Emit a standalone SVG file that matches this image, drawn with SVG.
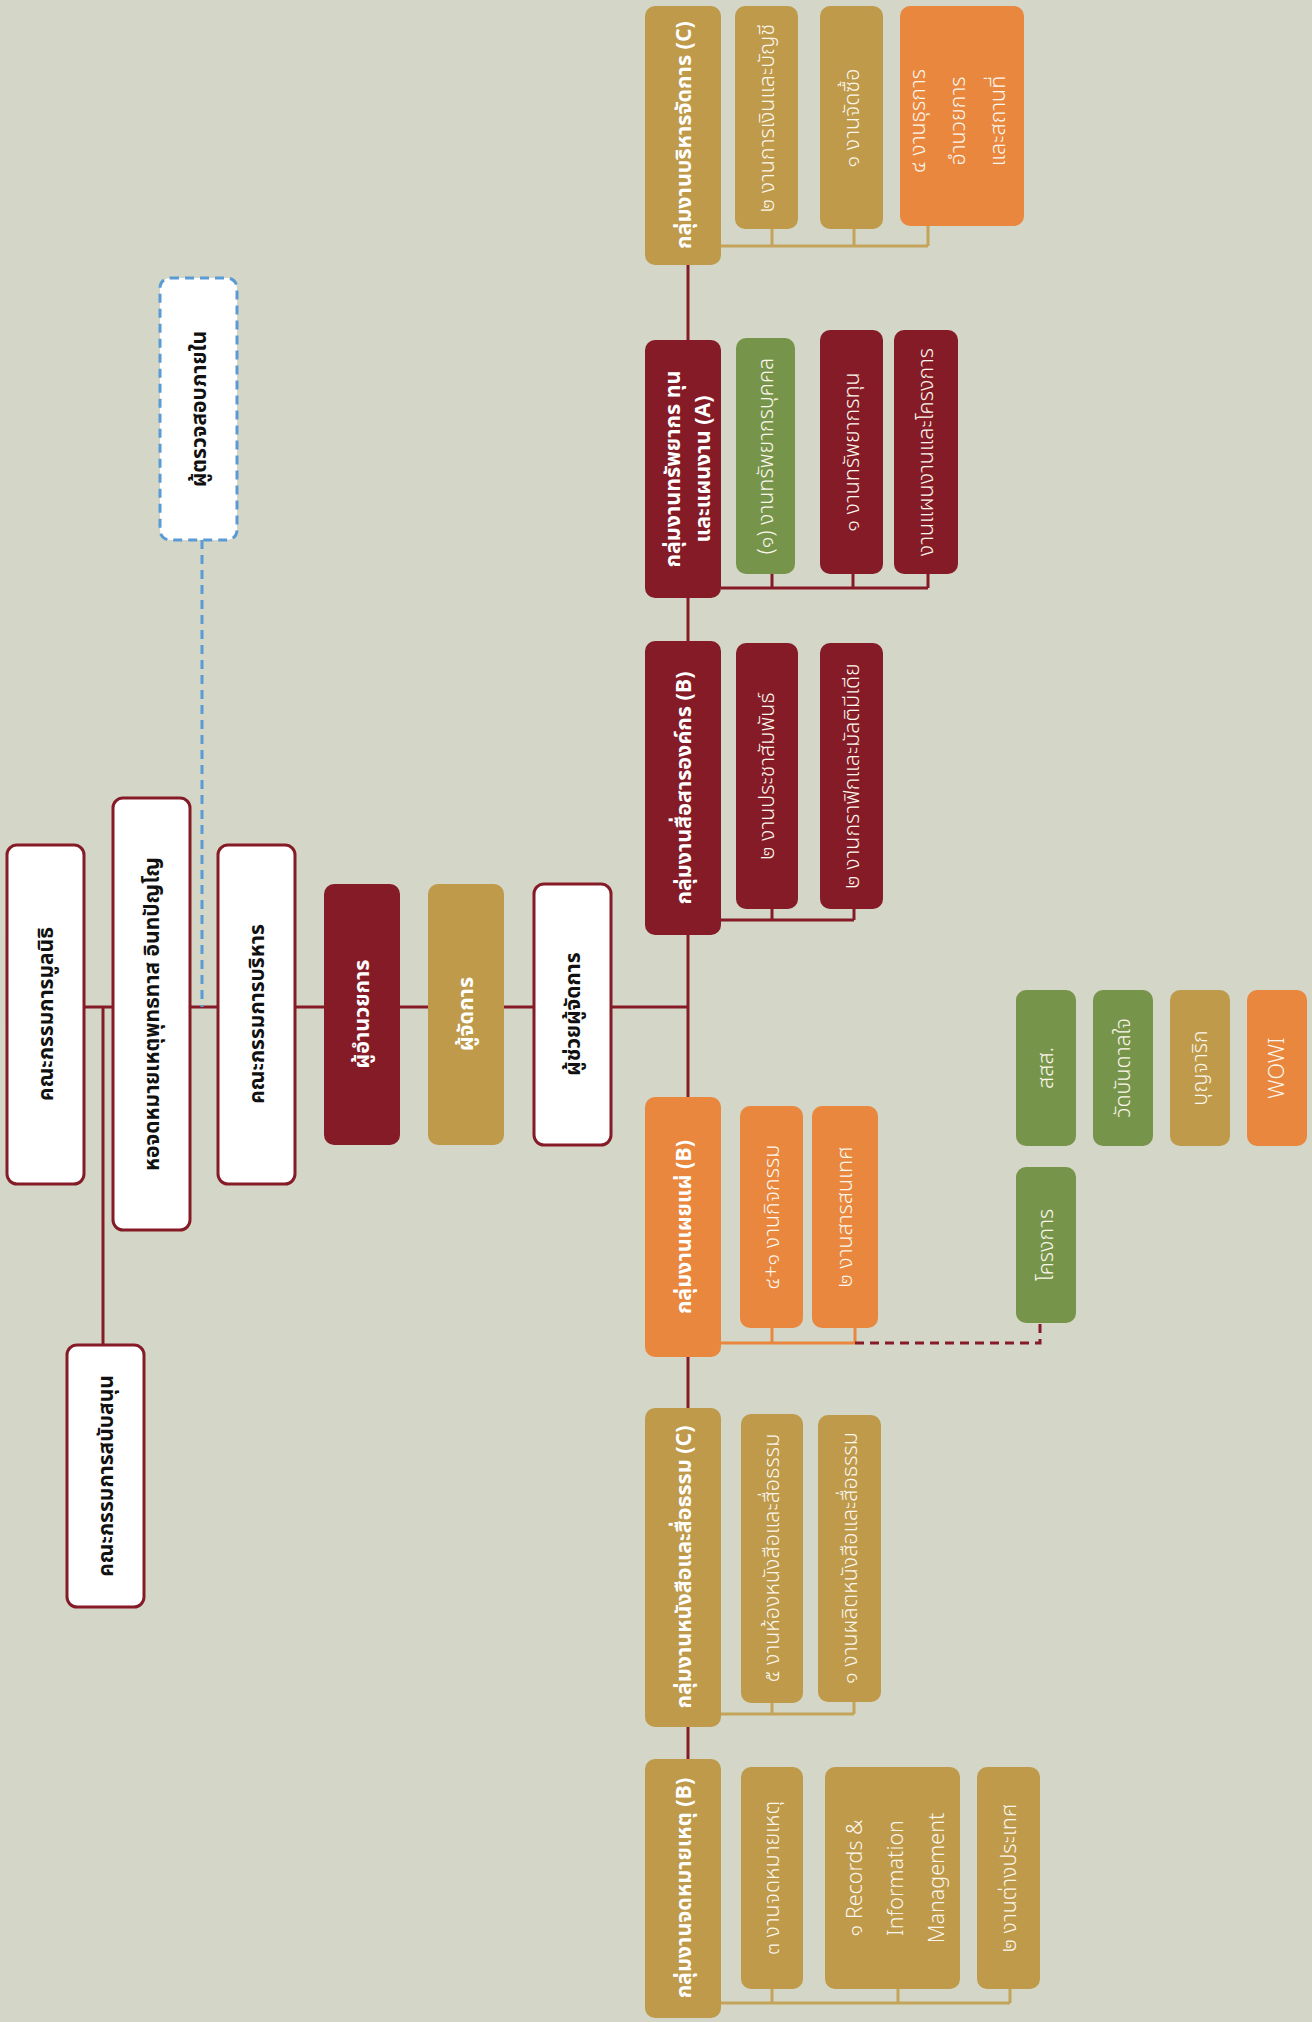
<svg xmlns="http://www.w3.org/2000/svg" width="1312" height="2022" viewBox="0 0 1312 2022">
<style>
text{font-family:"Noto Sans Thai","Noto Sans","Liberation Sans",sans-serif;text-anchor:middle;dominant-baseline:central}
.w{fill:#ffffff;stroke:#851b26;stroke-width:3}
.aud{fill:#ffffff;stroke:#5b9bd5;stroke-width:3;stroke-dasharray:9 6}
.mar{fill:#851b26}
.gold{fill:#be9a4a}
.ora{fill:#e8873d}
.grn{fill:#77954a}
.td{fill:#111111;font-weight:bold;font-size:21px}
.tt{fill:#ffffff;font-weight:bold;font-size:21.5px}
.ts{fill:#fbf6ec;font-weight:300;font-size:21.5px}
.main{fill:none;stroke:#851b26;stroke-width:3}
.cg{fill:none;stroke:#c4a35a;stroke-width:3}
.cm{fill:none;stroke:#851b26;stroke-width:3}
.co{fill:none;stroke:#e8873d;stroke-width:3}
</style>
<rect x="0" y="0" width="1312" height="2022" fill="#d4d6c7"/>
<g id="connectors">
<path class="main" d="M84 1007 H688 M688 265 V1759 M103 1007 V1345"/>
<path d="M202 540 V1007" fill="none" stroke="#5b9bd5" stroke-width="3" stroke-dasharray="9 6"/>
<path class="cg" d="M721 246 H928 M772 229 V246 M854 229 V246 M928 226 V246"/>
<path class="cm" d="M721 588 H928 M772 574 V588 M853 574 V588 M928 574 V588"/>
<path class="cm" d="M721 920 H854 M772 909 V920 M854 909 V920"/>
<path class="co" d="M721 1343 H855 M772 1328 V1343 M855 1328 V1343"/>
<path d="M855 1343 H1040 V1323" fill="none" stroke="#851b26" stroke-width="3" stroke-dasharray="9 6"/>
<path class="cg" d="M721 1714 H854 M772 1703 V1714 M854 1702 V1714"/>
<path class="cg" d="M721 2003 H1010 M772 1989 V2003 M898 1989 V2003 M1010 1989 V2003"/>
</g>
<g id="n-foundation"><rect class="w" x="7" y="845" width="77" height="339" rx="10"/><text class="td" transform="translate(46 1014) rotate(-90)">คณะกรรมการมูลนิธิ</text></g>
<g id="n-archive"><rect class="w" x="113" y="798" width="77" height="432" rx="10"/><text class="td" transform="translate(152 1014) rotate(-90)">หอจดหมายเหตุพุทธทาส อินทปัญโญ</text></g>
<g id="n-exec"><rect class="w" x="218" y="845" width="77" height="339" rx="10"/><text class="td" transform="translate(257 1014) rotate(-90)">คณะกรรมการบริหาร</text></g>
<g id="n-director"><rect class="mar" x="324" y="884" width="76" height="261" rx="10"/><text class="tt" transform="translate(362 1014) rotate(-90)">ผู้อำนวยการ</text></g>
<g id="n-manager"><rect class="gold" x="428" y="884" width="76" height="261" rx="10"/><text class="tt" transform="translate(466 1014) rotate(-90)">ผู้จัดการ</text></g>
<g id="n-assistant"><rect class="w" x="534" y="884" width="77" height="261" rx="10"/><text class="td" transform="translate(573 1014) rotate(-90)">ผู้ช่วยผู้จัดการ</text></g>
<g id="n-support"><rect class="w" x="67" y="1345" width="77" height="262" rx="10"/><text class="td" transform="translate(106 1476) rotate(-90)">คณะกรรมการสนับสนุน</text></g>
<g id="n-audit"><rect class="aud" x="160" y="278" width="77" height="262" rx="10"/><text class="td" transform="translate(199 409) rotate(-90)">ผู้ตรวจสอบภายใน</text></g>

<g id="g-admin"><rect class="gold" x="645" y="6" width="76" height="259" rx="10"/><text class="tt" transform="translate(684 135) rotate(-90)">กลุ่มงานบริหารจัดการ (C)</text></g>
<g id="s-finance"><rect class="gold" x="735" y="6" width="63" height="223" rx="10"/><text class="ts" transform="translate(767 118) rotate(-90)">๒ งานการเงินและบัญชี</text></g>
<g id="s-purchase"><rect class="gold" x="820" y="6" width="63" height="223" rx="10"/><text class="ts" transform="translate(852 118) rotate(-90)">๑ งานจัดซื้อ</text></g>
<g id="s-general"><rect class="ora" x="900" y="6" width="124" height="220" rx="10"/><text class="ts" transform="translate(958 121) rotate(-90)"><tspan x="0" dy="-40">๔ งานธุรการ</tspan><tspan x="0" dy="40">อำนวยการ</tspan><tspan x="0" dy="40">และสถานที่</tspan></text></g>

<g id="g-resource"><rect class="mar" x="645" y="340" width="76" height="258" rx="10"/><text class="tt" transform="translate(688 469) rotate(-90)"><tspan x="0" dy="-15">กลุ่มงานทรัพยากร ทุน</tspan><tspan x="0" dy="30">และแผนงาน (A)</tspan></text></g>
<g id="s-hr"><rect class="grn" x="736" y="338" width="59" height="236" rx="10"/><text class="ts" transform="translate(766 456) rotate(-90)">(๑) งานทรัพยากรบุคคล</text></g>
<g id="s-fund"><rect class="mar" x="820" y="330" width="63" height="244" rx="10"/><text class="ts" transform="translate(852 452) rotate(-90)">๑ งานทรัพยากรทุน</text></g>
<g id="s-plan"><rect class="mar" x="894" y="330" width="64" height="244" rx="10"/><text class="ts" transform="translate(926 452) rotate(-90)">งานแผนงานและโครงการ</text></g>

<g id="g-comm"><rect class="mar" x="645" y="641" width="76" height="294" rx="10"/><text class="tt" transform="translate(684 788) rotate(-90)">กลุ่มงานสื่อสารองค์กร (B)</text></g>
<g id="s-pr"><rect class="mar" x="736" y="643" width="62" height="266" rx="10"/><text class="ts" transform="translate(767 776) rotate(-90)">๒ งานประชาสัมพันธ์</text></g>
<g id="s-graphic"><rect class="mar" x="820" y="643" width="63" height="266" rx="10"/><text class="ts" transform="translate(852 776) rotate(-90)">๒ งานกราฟิกและมัลติมีเดีย</text></g>

<g id="g-dissem"><rect class="ora" x="645" y="1097" width="76" height="260" rx="10"/><text class="tt" transform="translate(684 1227) rotate(-90)">กลุ่มงานเผยแผ่ (B)</text></g>
<g id="s-activity"><rect class="ora" x="740" y="1106" width="63" height="222" rx="10"/><text class="ts" transform="translate(772 1217) rotate(-90)">๔+๑ งานกิจกรรม</text></g>
<g id="s-info"><rect class="ora" x="812" y="1106" width="66" height="222" rx="10"/><text class="ts" transform="translate(845 1217) rotate(-90)">๒ งานสารสนเทศ</text></g>
<g id="p-projects"><rect class="grn" x="1016" y="1167" width="60" height="156" rx="10"/><text class="ts" transform="translate(1046 1245) rotate(-90)">โครงการ</text></g>
<g id="p-sss"><rect class="grn" x="1016" y="990" width="60" height="156" rx="10"/><text class="ts" transform="translate(1046 1068) rotate(-90)">สสส.</text></g>
<g id="p-wat"><rect class="grn" x="1093" y="990" width="60" height="156" rx="10"/><text class="ts" transform="translate(1123 1068) rotate(-90)">วัดบันดาลใจ</text></g>
<g id="p-bunjarik"><rect class="gold" x="1170" y="990" width="60" height="156" rx="10"/><text class="ts" transform="translate(1200 1068) rotate(-90)">บุญจาริก</text></g>
<g id="p-wowi"><rect class="ora" x="1247" y="990" width="60" height="156" rx="10"/><text class="ts" transform="translate(1277 1068) rotate(-90)">WOWI</text></g>

<g id="g-books"><rect class="gold" x="645" y="1408" width="76" height="319" rx="10"/><text class="tt" transform="translate(684 1567) rotate(-90)">กลุ่มงานหนังสือและสื่อธรรม (C)</text></g>
<g id="s-bookroom"><rect class="gold" x="741" y="1414" width="62" height="289" rx="10"/><text class="ts" transform="translate(772 1558) rotate(-90)">๕ งานห้องหนังสือและสื่อธรรม</text></g>
<g id="s-bookprod"><rect class="gold" x="818" y="1415" width="63" height="287" rx="10"/><text class="ts" transform="translate(850 1558) rotate(-90)">๑ งานผลิตหนังสือและสื่อธรรม</text></g>

<g id="g-archives"><rect class="gold" x="645" y="1759" width="76" height="259" rx="10"/><text class="tt" transform="translate(684 1888) rotate(-90)">กลุ่มงานจดหมายเหตุ (B)</text></g>
<g id="s-arch"><rect class="gold" x="741" y="1767" width="62" height="222" rx="10"/><text class="ts" transform="translate(772 1878) rotate(-90)">๓ งานจดหมายเหตุ</text></g>
<g id="s-rim"><rect class="gold" x="825" y="1767" width="135" height="222" rx="10"/><text class="ts" transform="translate(896 1878) rotate(-90)"><tspan x="0" dy="-41">๑ Records &amp;</tspan><tspan x="0" dy="41">Information</tspan><tspan x="0" dy="41">Management</tspan></text></g>
<g id="s-foreign"><rect class="gold" x="977" y="1767" width="63" height="222" rx="10"/><text class="ts" transform="translate(1009 1878) rotate(-90)">๒ งานต่างประเทศ</text></g>
</svg>
